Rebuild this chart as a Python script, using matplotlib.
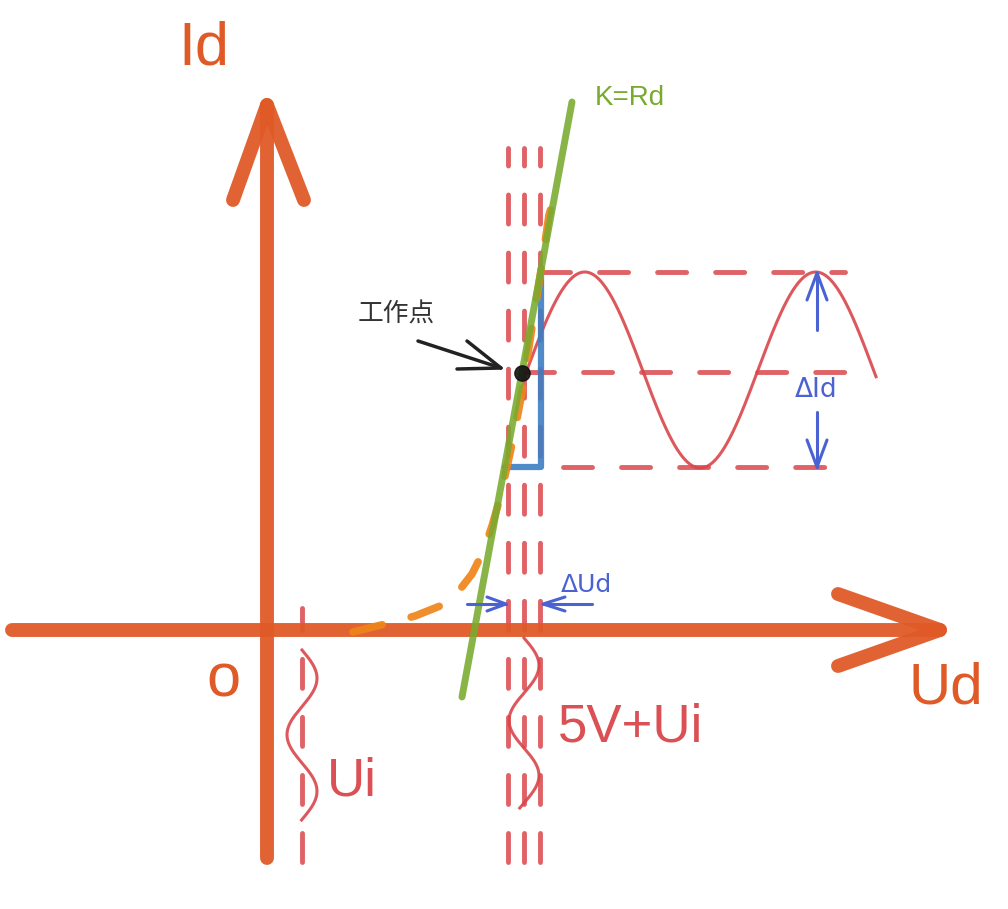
import numpy as np
import matplotlib
matplotlib.use("Agg")
import matplotlib.pyplot as plt

plt.rcParams['font.family'] = ['Liberation Sans', 'Noto Sans CJK SC', 'DejaVu Sans']

W, H = 1008, 909

# ---- data (pixel-space diagram coordinates) ----
axis_origin = (267, 630)
x_axis_span = [12, 940]
y_axis_span = [858, 105]
x_arrow_arms = [(838, 594), (940, 630), (838, 666)]
y_arrow_arms = [(233, 200), (267, 105), (304, 200)]

ui_line_x = 302
ui_line_span = [862, 608]
bias_lines_x = [508, 524, 540]
bias_line_span = [862, 148]

load_line = [(462, 697), (572, 102)]
diode_curve_x = [353, 385, 415, 440, 458, 472, 483, 492, 500, 507, 514, 522, 530, 540, 549, 556]
diode_curve_y = [632, 624, 616, 606, 592, 574, 552, 526, 498, 467, 435, 392, 340, 277, 215, 190]

h_dash_y = [272, 372, 467]
h_dash_start = [541, 525, 563]
h_dash_end = [845, 847, 827]

q_point = (522, 373)
sine_x0, sine_x1 = 527, 876
sine_mid, sine_amp, sine_period = 370, 98, 231

blue_L = [(505, 467), (541, 467), (541, 268)]
dId_x = 817
dId_up = (330, 273)
dId_down = (412, 467)
dUd_y = 604
dUd_left = (467, 506)
dUd_right = (592, 543)

small_wave_1 = dict(x=302, y0=650, y1=820, period=113)
small_wave_2 = dict(x=524, y0=638, y1=808, period=110)

c_axis = '#E05A28'
c_red = '#D9464B'
c_green = '#78AA2E'
c_orange = '#EE8519'
c_blue = '#4B62D3'
c_lblue = '#3C7DC4'

fig = plt.figure(figsize=(W / 100, H / 100), dpi=100)
ax = fig.add_axes([0, 0, 1, 1])
ax.set_xlim(0, W)
ax.set_ylim(H, 0)
ax.axis('off')

DASH = (5.97, 5.97)

# dashed vertical lines
ax.plot([ui_line_x, ui_line_x], ui_line_span, color=c_red, lw=3.5, alpha=0.85,
        dashes=DASH, dash_capstyle='round', zorder=2)
for bx in bias_lines_x:
    ax.plot([bx, bx], bias_line_span, color=c_red, lw=3.5, alpha=0.85,
            dashes=DASH, dash_capstyle='round', zorder=2)

# horizontal dashed lines
for yy, xs, xe in zip(h_dash_y, h_dash_start, h_dash_end):
    ax.plot([xs, xe], [yy, yy], color=c_red, lw=3.5, alpha=0.85,
            dashes=DASH, dash_capstyle='round', zorder=2)

# axes (thick)
AX_LW = 10
ax.plot(x_axis_span, [axis_origin[1]] * 2, color=c_axis, lw=AX_LW, alpha=0.95,
        solid_capstyle='round', zorder=3)
ax.plot([axis_origin[0]] * 2, y_axis_span, color=c_axis, lw=AX_LW, alpha=0.95,
        solid_capstyle='round', zorder=3)
xa = np.array(x_arrow_arms)
ax.plot(xa[:, 0], xa[:, 1], color=c_axis, lw=AX_LW, alpha=0.95,
        solid_capstyle='round', solid_joinstyle='round', zorder=3)
ya = np.array(y_arrow_arms)
ax.plot(ya[:, 0], ya[:, 1], color=c_axis, lw=AX_LW, alpha=0.95,
        solid_capstyle='round', solid_joinstyle='round', zorder=3)

# small input waves
for wv in (small_wave_1, small_wave_2):
    t = np.linspace(wv['y0'], wv['y1'], 200)
    xx = wv['x'] + 15 * np.sin((t - wv['y0']) / wv['period'] * 2 * np.pi)
    ax.plot(xx, t, color=c_red, lw=2.2, alpha=0.9, zorder=4)

# output sine
sx = np.linspace(sine_x0, sine_x1, 400)
sy = sine_mid - sine_amp * np.sin((sx - sine_x0) / sine_period * 2 * np.pi)
ax.plot(sx, sy, color=c_red, lw=2.2, alpha=0.9, zorder=4)

# blue L
bl = np.array(blue_L)
ax.plot(bl[:, 0], bl[:, 1], color=c_lblue, lw=4.5, alpha=0.9,
        solid_capstyle='round', solid_joinstyle='round', zorder=5)

# diode curve (orange dashed)
ax.plot(diode_curve_x, diode_curve_y, color=c_orange, lw=5.5, alpha=0.92,
        dashes=(3.93, 3.93), dash_capstyle='round', zorder=6)

# load line
ll = np.array(load_line)
ax.plot(ll[:, 0], ll[:, 1], color=c_green, lw=5, alpha=0.88,
        solid_capstyle='round', zorder=7)

# Q point
ax.plot(*q_point, 'o', color='#111111', ms=11, alpha=0.9, zorder=8)


def open_arrow(x0, y0, x1, y1, color, lw, head_len, head_half):
    ax.plot([x0, x1], [y0, y1], color=color, lw=lw, solid_capstyle='round', zorder=9)
    d = np.array([x1 - x0, y1 - y0], float)
    d /= np.hypot(*d)
    n = np.array([-d[1], d[0]])
    b = np.array([x1, y1]) - d * head_len
    p1 = b + n * head_half
    p2 = b - n * head_half
    ax.plot([p1[0], x1, p2[0]], [p1[1], y1, p2[1]], color=color, lw=lw,
            solid_capstyle='round', solid_joinstyle='round', zorder=9)


# delta Id arrows
open_arrow(dId_x, dId_up[0], dId_x, dId_up[1], c_blue, 2.2, 27, 10)
open_arrow(dId_x, dId_down[0], dId_x, dId_down[1], c_blue, 2.2, 27, 10)
ax.text(dId_x - 1, 390, 'ΔId', color=c_blue, fontsize=19, ha='center', va='center',
        family=['DejaVu Sans'])

# delta Ud arrows
open_arrow(dUd_left[0], dUd_y, dUd_left[1], dUd_y, c_blue, 2.2, 19, 7)
open_arrow(dUd_right[0], dUd_y, dUd_right[1], dUd_y, c_blue, 2.2, 22, 7)
ax.text(586, 585, 'ΔUd', color=c_blue, fontsize=18, ha='center', va='center',
        family=['DejaVu Sans'])

# operating point label and arrow
ax.text(396, 315, '工作点', color='#333333', fontsize=18.5, ha='center', va='center',
        family=['Noto Sans CJK SC'])
ax.plot([418, 501], [341, 368], color='#222222', lw=2.5, solid_capstyle='round', zorder=8)
ax.plot([457, 501, 467], [369, 368, 341], color='#222222', lw=2.5,
        solid_capstyle='round', solid_joinstyle='round', zorder=8)

# labels
ax.text(204, 49, 'Id', color=c_axis, fontsize=44, ha='center', va='center')
ax.text(946, 688, 'Ud', color=c_axis, fontsize=42, ha='center', va='center')
ax.text(223, 681, 'o', color=c_axis, fontsize=44, ha='center', va='center')
ax.text(630, 98, 'K=Rd', color=c_green, fontsize=20, ha='center', va='center')
ax.text(352, 782, 'Ui', color=c_red, fontsize=38, ha='center', va='center', alpha=0.95)
ax.text(631, 727, '5V+Ui', color=c_red, fontsize=38, ha='center', va='center', alpha=0.95)

fig.savefig('out.png', dpi=100)
